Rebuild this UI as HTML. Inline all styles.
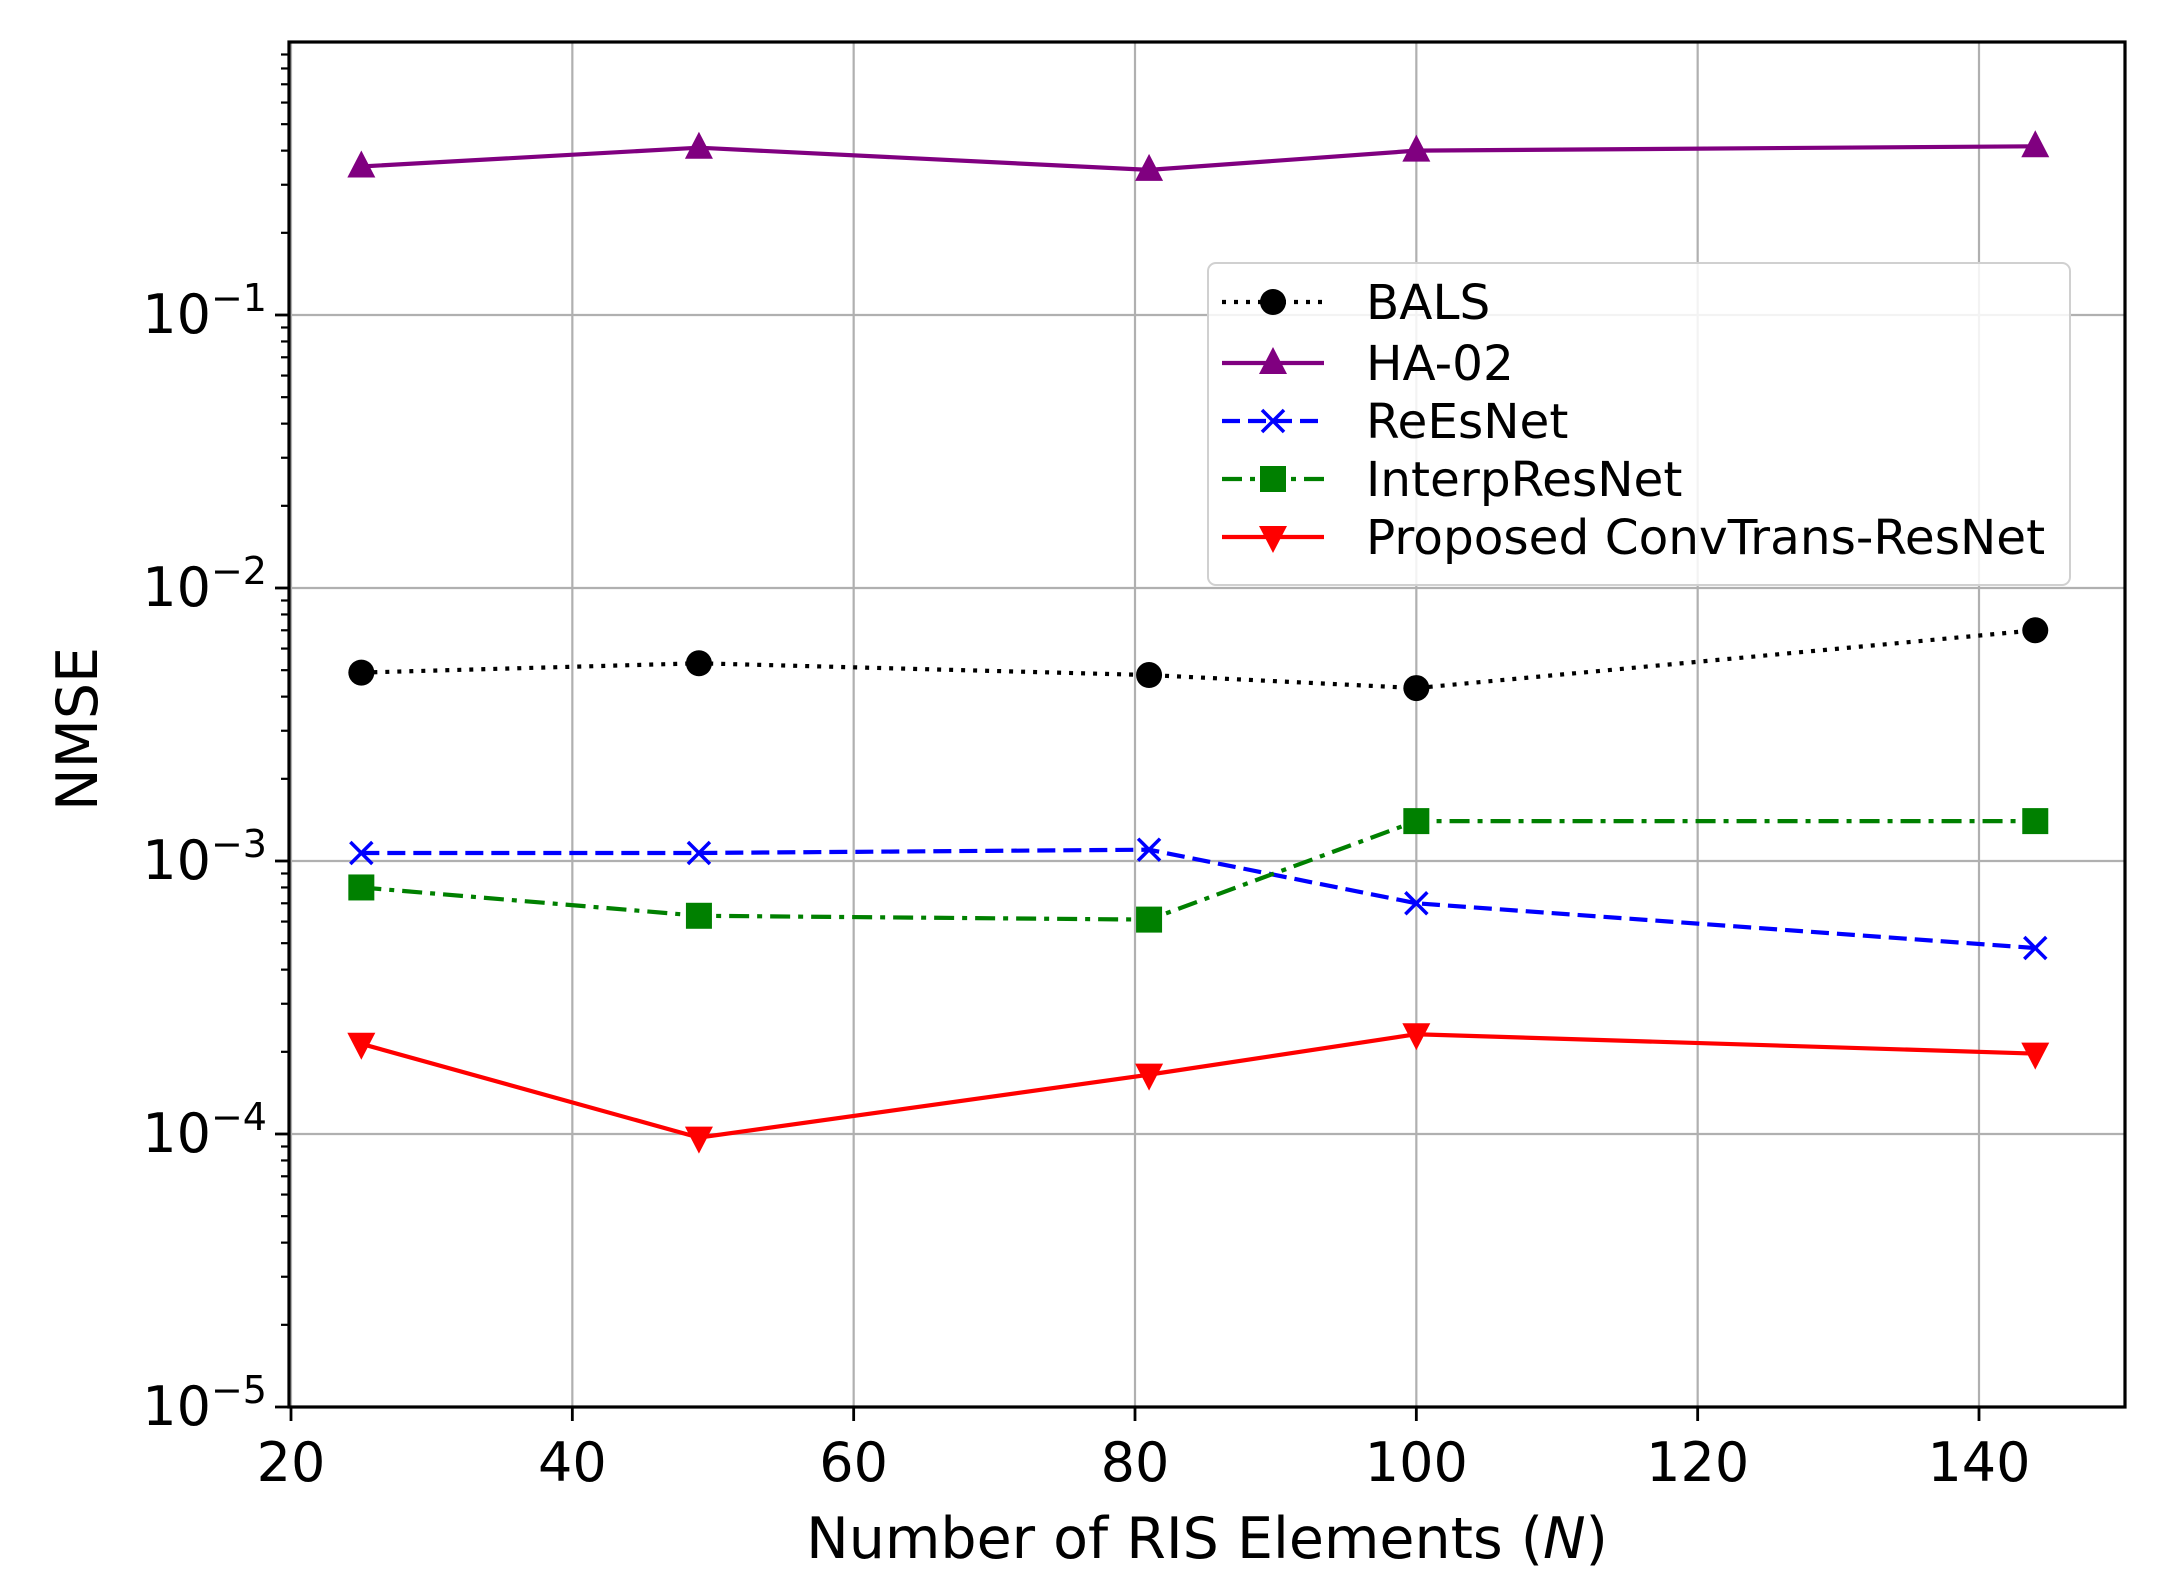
<!DOCTYPE html>
<html><head><meta charset="utf-8"><style>
body{margin:0;background:#fff}
svg{display:block;font-family:"DejaVu Sans","Liberation Sans",sans-serif}
</style></head><body>
<svg id="chart" width="2168" height="1593" xmlns="http://www.w3.org/2000/svg"></svg>
<script>
const xValues=[25,49,81,100,144];
const balsValues=[0.0049,0.0053,0.0048,0.0043,0.0070];
const ha02Values=[0.35,0.41,0.34,0.40,0.415];
const reesnetValues=[0.00107,0.00107,0.0011,0.0007,0.00048];
const interpValues=[0.0008,0.00063,0.00061,0.0014,0.0014];
const proposedValues=[0.000214,0.000097,0.000165,0.000232,0.000197];
const xTicks=[20,40,60,80,100,120,140];
const yTickExps=[-5,-4,-3,-2,-1];
const seriesNames=["BALS","HA-02","ReEsNet","InterpResNet","Proposed ConvTrans-ResNet"];

const NS="http://www.w3.org/2000/svg";
const svg=document.getElementById('chart');
const L=289,R=2125,T=42,B=1407;
const X0=20,X1=140,PX0=291,PX1=1979;
function sx(v){return PX0+(v-X0)*(PX1-PX0)/(X1-X0);}
function sy(v){return B-(Math.log10(v)+5)*(B-T)/5;}
function el(tag,attrs,parent){const e=document.createElementNS(NS,tag);for(const k in attrs)e.setAttribute(k,attrs[k]);(parent||svg).appendChild(e);return e;}

const grid=el('g',{});


xTicks.forEach(t=>{const x=sx(t);
 if(x>L&&x<R)el('line',{x1:x,x2:x,y1:T,y2:B,stroke:'#b0b0b0','stroke-width':2.2},grid);
 el('line',{x1:x,x2:x,y1:B,y2:B+14,stroke:'#000','stroke-width':2.8});
 const tx=el('text',{x:x,y:B+74,'font-size':54,'text-anchor':'middle',fill:'#000'});
 tx.textContent=t;
 
 
});
yTickExps.forEach(e=>{const y=sy(Math.pow(10,e));
 if(y>T&&y<B)el('line',{x1:L,x2:R,y1:y,y2:y,stroke:'#b0b0b0','stroke-width':2.2},grid);
 el('line',{x1:L-14,x2:L,y1:y,y2:y,stroke:'#000','stroke-width':2.8});
 const tx=el('text',{x:L-22,y:y+18,'font-size':54,'text-anchor':'end',fill:'#000'});
 tx.innerHTML='10<tspan dy="-22" font-size="38">\u2212'+(-e)+'</tspan>';
 
 
});
for(let e=-5;e<0;e++){for(let m=2;m<=9;m++){const y=sy(m*Math.pow(10,e));el('line',{x1:L-8,x2:L,y1:y,y2:y,stroke:'#000','stroke-width':2.2});}}

function marker(type,x,y,color,g){
 const s=13;
 if(type==='o')return el('circle',{cx:x,cy:y,r:s,fill:color},g);
 if(type==='^')return el('polygon',{points:`${x},${y-s-3} ${x-s-1},${y+s-2} ${x+s+1},${y+s-2}`,fill:color},g);
 if(type==='v')return el('polygon',{points:`${x},${y+s+3} ${x-s-1},${y-s+2} ${x+s+1},${y-s+2}`,fill:color},g);
 if(type==='s')return el('rect',{x:x-s,y:y-s,width:2*s,height:2*s,fill:color},g);
 if(type==='x'){const gg=el('g',{},g);el('line',{x1:x-11,y1:y-11,x2:x+11,y2:y+11,stroke:color,'stroke-width':3.5},gg);el('line',{x1:x-11,y1:y+11,x2:x+11,y2:y-11,stroke:color,'stroke-width':3.5},gg);return gg;}
}
const series=[
 {vals:balsValues,color:'#000',dash:'4,8',m:'o',name:'bals'},
 {vals:ha02Values,color:'#800080',dash:'',m:'^',name:'ha-02'},
 {vals:reesnetValues,color:'#0000ff',dash:'18,8',m:'x',name:'reesnet'},
 {vals:interpValues,color:'#008000',dash:'20,8,5,8',m:'s',name:'interpresnet'},
 {vals:proposedValues,color:'#ff0000',dash:'',m:'v',name:'proposed'}
];
series.forEach((s,i)=>{
 const g=el('g',{});
 
 
 const pts=s.vals.map((v,j)=>sx(xValues[j])+','+sy(v)).join(' ');
 el('polyline',{points:pts,fill:'none',stroke:s.color,'stroke-width':4.2,'stroke-dasharray':s.dash},g);
 s.vals.forEach((v,j)=>{const mk=marker(s.m,sx(xValues[j]),sy(v),s.color,g);
  
  });
});
el('rect',{x:L,y:T,width:R-L,height:B-T,fill:'none',stroke:'#000','stroke-width':3.2});

const lg=el('g',{});


el('rect',{x:1208,y:263,width:862,height:322,rx:8,fill:'#fff','fill-opacity':0.85,stroke:'#d0d0d0','stroke-width':2},lg);
const ly=[302,363,421,479,537];
series.forEach((s,i)=>{
 const e=el('g',{},lg);
 
 
 el('line',{x1:1222,x2:1324,y1:ly[i],y2:ly[i],stroke:s.color,'stroke-width':4.2,'stroke-dasharray':s.dash},e);
 marker(s.m,1273,ly[i],s.color,e);
 const t=el('text',{x:1366,y:ly[i]+17,'font-size':48.5,fill:'#000'},e);
 t.textContent=seriesNames[i];
});

const xl=el('text',{x:(L+R)/2,y:1558,'font-size':57,'text-anchor':'middle',fill:'#000'});
xl.innerHTML='Number of RIS Elements (<tspan font-style="italic">N</tspan>)';


const yl=el('text',{x:0,y:0,'font-size':57,'text-anchor':'middle',fill:'#000',transform:'translate(97,729) rotate(-90)'});
yl.textContent='NMSE';


</script>
</body></html>
